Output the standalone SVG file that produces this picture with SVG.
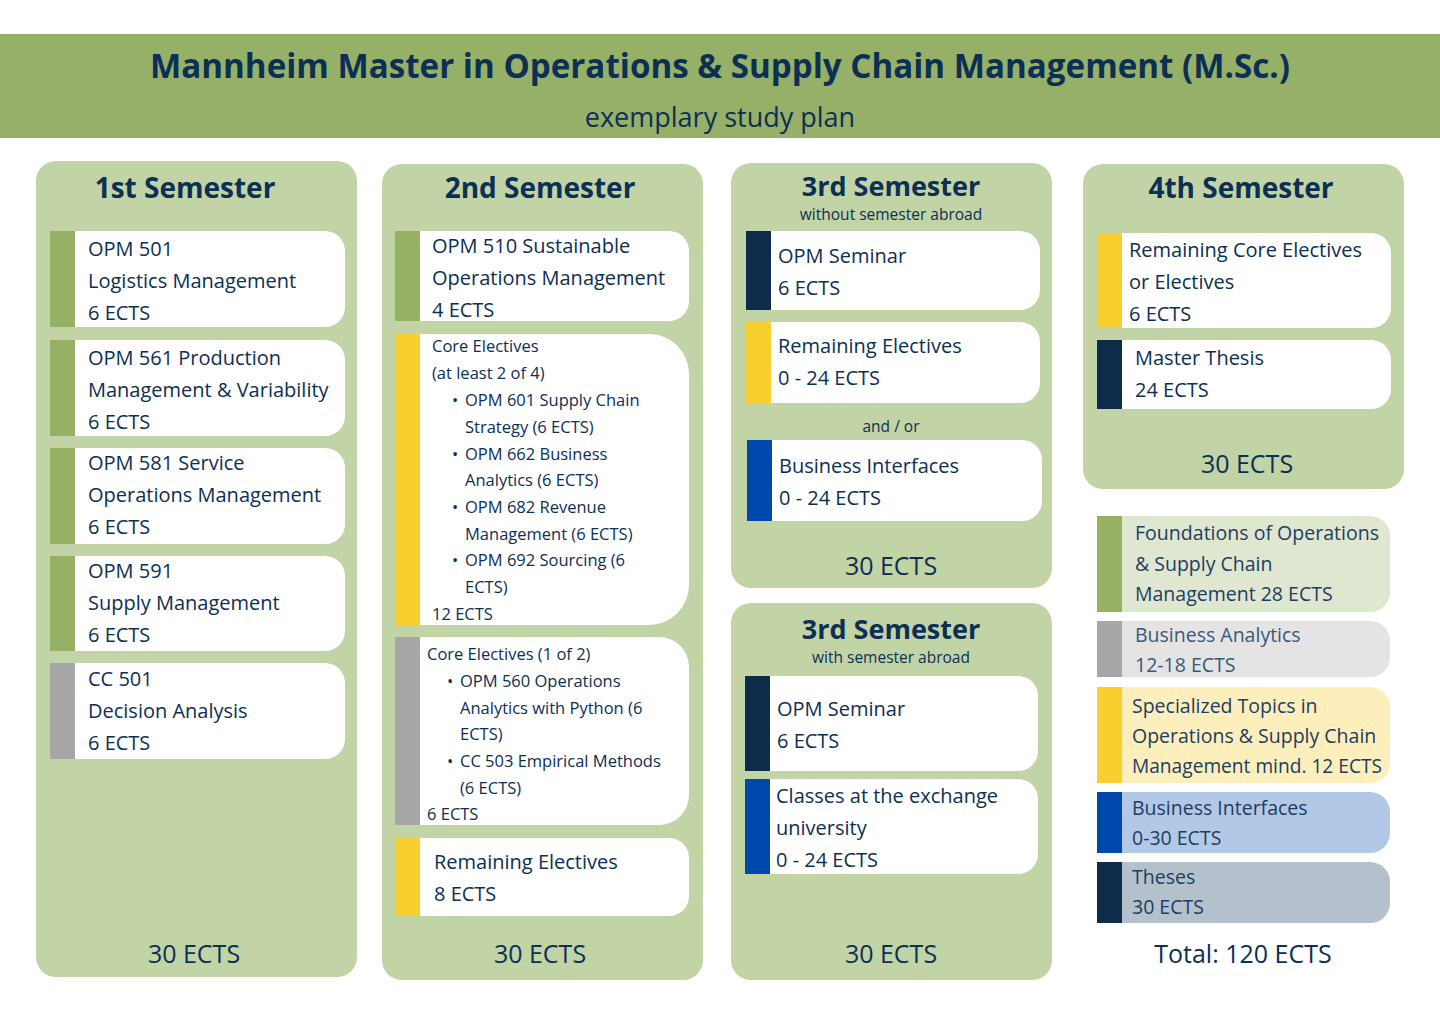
<svg xmlns="http://www.w3.org/2000/svg" width="1440" height="1017" viewBox="0 0 1440 1017">
<style>
text{font-family:"Open Sans","Liberation Sans",sans-serif;fill:#0c2f55}
.h{font-size:28px;font-weight:bold;text-anchor:middle}
.h3{font-size:27px;font-weight:bold;text-anchor:middle}
.sub{font-size:15.5px;text-anchor:middle}
.t{font-size:20px}
.s{font-size:16.5px}
.tot{font-size:25px;text-anchor:middle}
.panel{fill:#c2d3a5}
.card{fill:#fff}
.g{fill:#96b064}.gr{fill:#a6a6a6}.y{fill:#f9cf2f}.n{fill:#0d2b4b}.b{fill:#0048ac}
.lg text{fill:#1d3d62}
.lg .t{font-size:19.5px}
</style>
<rect x="0" y="0" width="1440" height="1017" fill="#fff"/>
<g id="header">
<rect x="0" y="34" width="1440" height="104" fill="#97b067"/>
<text x="720" y="78" font-size="34" font-weight="bold" text-anchor="middle" textLength="1140" lengthAdjust="spacingAndGlyphs">Mannheim Master in Operations &amp; Supply Chain Management (M.Sc.)</text>
<text x="720" y="127" font-size="27" text-anchor="middle">exemplary study plan</text>
</g>
<g id="sem1">
<rect class="panel" x="36" y="161" width="321" height="816" rx="20"/>
<text class="h" x="185" y="198">1st Semester</text>
<path class="card" d="M50 231H325A20 20 0 0 1 345 251V307A20 20 0 0 1 325 327H50Z"/><rect class="g" x="50" y="231" width="25" height="96"/>
<text class="t" x="88" y="256">OPM 501</text><text class="t" x="88" y="288">Logistics Management</text><text class="t" x="88" y="320">6 ECTS</text>
<path class="card" d="M50 340H325A20 20 0 0 1 345 360V416A20 20 0 0 1 325 436H50Z"/><rect class="g" x="50" y="340" width="25" height="96"/>
<text class="t" x="88" y="365">OPM 561 Production</text><text class="t" x="88" y="397">Management &amp; Variability</text><text class="t" x="88" y="429">6 ECTS</text>
<path class="card" d="M50 448H325A20 20 0 0 1 345 468V524A20 20 0 0 1 325 544H50Z"/><rect class="g" x="50" y="448" width="25" height="96"/>
<text class="t" x="88" y="470">OPM 581 Service</text><text class="t" x="88" y="502">Operations Management</text><text class="t" x="88" y="534">6 ECTS</text>
<path class="card" d="M50 556H325A20 20 0 0 1 345 576V631A20 20 0 0 1 325 651H50Z"/><rect class="g" x="50" y="556" width="25" height="95"/>
<text class="t" x="88" y="578">OPM 591</text><text class="t" x="88" y="610">Supply Management</text><text class="t" x="88" y="642">6 ECTS</text>
<path class="card" d="M50 663H325A20 20 0 0 1 345 683V739A20 20 0 0 1 325 759H50Z"/><rect class="gr" x="50" y="663" width="25" height="96"/>
<text class="t" x="88" y="686">CC 501</text><text class="t" x="88" y="718">Decision Analysis</text><text class="t" x="88" y="750">6 ECTS</text>
<text class="tot" x="194" y="963">30 ECTS</text>
</g>
<g id="sem2">
<rect class="panel" x="382" y="164" width="321" height="816" rx="20"/>
<text class="h" x="540" y="198">2nd Semester</text>
<path class="card" d="M395 231H669A20 20 0 0 1 689 251V301A20 20 0 0 1 669 321H395Z"/><rect class="g" x="395" y="231" width="25" height="90"/>
<text class="t" x="432" y="253">OPM 510 Sustainable</text><text class="t" x="432" y="285">Operations Management</text><text class="t" x="432" y="317">4 ECTS</text>
<path class="card" d="M395 334H649A40 40 0 0 1 689 374V585A40 40 0 0 1 649 625H395Z"/><rect class="y" x="395" y="334" width="25" height="291"/>
<text class="s" x="432" y="352">Core Electives</text><text class="s" x="432" y="379">(at least 2 of 4)</text>
<text class="s" x="452" y="406">•</text><text class="s" x="465" y="406">OPM 601 Supply Chain</text><text class="s" x="465" y="433">Strategy (6 ECTS)</text>
<text class="s" x="452" y="460">•</text><text class="s" x="465" y="460">OPM 662 Business</text><text class="s" x="465" y="486">Analytics (6 ECTS)</text>
<text class="s" x="452" y="513">•</text><text class="s" x="465" y="513">OPM 682 Revenue</text><text class="s" x="465" y="540">Management (6 ECTS)</text>
<text class="s" x="452" y="566">•</text><text class="s" x="465" y="566">OPM 692 Sourcing (6</text><text class="s" x="465" y="593">ECTS)</text>
<text class="s" x="432" y="620">12 ECTS</text>
<path class="card" d="M395 637H659A30 30 0 0 1 689 667V795A30 30 0 0 1 659 825H395Z"/><rect class="gr" x="395" y="637" width="25" height="188"/>
<text class="s" x="427" y="660">Core Electives (1 of 2)</text>
<text class="s" x="447" y="687">•</text><text class="s" x="460" y="687">OPM 560 Operations</text><text class="s" x="460" y="714">Analytics with Python (6</text><text class="s" x="460" y="740">ECTS)</text>
<text class="s" x="447" y="767">•</text><text class="s" x="460" y="767">CC 503 Empirical Methods</text><text class="s" x="460" y="794">(6 ECTS)</text>
<text class="s" x="427" y="820">6 ECTS</text>
<path class="card" d="M395 838H669A20 20 0 0 1 689 858V896A20 20 0 0 1 669 916H395Z"/><rect class="y" x="395" y="838" width="25" height="78"/>
<text class="t" x="434" y="869">Remaining Electives</text><text class="t" x="434" y="901">8 ECTS</text>
<text class="tot" x="540" y="963">30 ECTS</text>
</g>
<g id="sem3a">
<rect class="panel" x="731" y="163" width="321" height="425" rx="20"/>
<text class="h3" x="891" y="196">3rd Semester</text>
<text class="sub" x="891" y="220">without semester abroad</text>
<path class="card" d="M746 231H1020A20 20 0 0 1 1040 251V290A20 20 0 0 1 1020 310H746Z"/><rect class="n" x="746" y="231" width="25" height="79"/>
<text class="t" x="778" y="263">OPM Seminar</text><text class="t" x="778" y="295">6 ECTS</text>
<path class="card" d="M746 322H1020A20 20 0 0 1 1040 342V383A20 20 0 0 1 1020 403H746Z"/><rect class="y" x="746" y="322" width="25" height="81"/>
<text class="t" x="778" y="353">Remaining Electives</text><text class="t" x="778" y="385">0 - 24 ECTS</text>
<text class="sub" x="891" y="432">and / or</text>
<path class="card" d="M747 440H1022A20 20 0 0 1 1042 460V501A20 20 0 0 1 1022 521H747Z"/><rect class="b" x="747" y="440" width="25" height="81"/>
<text class="t" x="779" y="473">Business Interfaces</text><text class="t" x="779" y="505">0 - 24 ECTS</text>
<text class="tot" x="891" y="575">30 ECTS</text>
</g>
<g id="sem3b">
<rect class="panel" x="731" y="603" width="321" height="377" rx="20"/>
<text class="h3" x="891" y="639">3rd Semester</text>
<text class="sub" x="891" y="663">with semester abroad</text>
<path class="card" d="M745 676H1018A20 20 0 0 1 1038 696V751A20 20 0 0 1 1018 771H745Z"/><rect class="n" x="745" y="676" width="25" height="95"/>
<text class="t" x="777" y="716">OPM Seminar</text><text class="t" x="777" y="748">6 ECTS</text>
<path class="card" d="M745 779H1018A20 20 0 0 1 1038 799V854A20 20 0 0 1 1018 874H745Z"/><rect class="b" x="745" y="779" width="25" height="95"/>
<text class="t" x="776" y="803">Classes at the exchange</text><text class="t" x="776" y="835">university</text><text class="t" x="776" y="867">0 - 24 ECTS</text>
<text class="tot" x="891" y="963">30 ECTS</text>
</g>
<g id="sem4">
<rect class="panel" x="1083" y="164" width="321" height="325" rx="20"/>
<text class="h" x="1241" y="198">4th Semester</text>
<path class="card" d="M1097 233H1371A20 20 0 0 1 1391 253V308A20 20 0 0 1 1371 328H1097Z"/><rect class="y" x="1097" y="233" width="25" height="95"/>
<text class="t" x="1129" y="257">Remaining Core Electives</text><text class="t" x="1129" y="289">or Electives</text><text class="t" x="1129" y="321">6 ECTS</text>
<path class="card" d="M1097 340H1371A20 20 0 0 1 1391 360V389A20 20 0 0 1 1371 409H1097Z"/><rect class="n" x="1097" y="340" width="25" height="69"/>
<text class="t" x="1135" y="365">Master Thesis</text><text class="t" x="1135" y="397">24 ECTS</text>
<text class="tot" x="1247" y="473">30 ECTS</text>
</g>
<g id="legend" class="lg">
<path fill="#dfe7d1" d="M1097 516H1370A20 20 0 0 1 1390 536V592A20 20 0 0 1 1370 612H1097Z"/><rect class="g" x="1097" y="516" width="25" height="96"/>
<text class="t" x="1135" y="540" textLength="244" lengthAdjust="spacingAndGlyphs">Foundations of Operations</text><text class="t" x="1135" y="571">&amp; Supply Chain</text><text class="t" x="1135" y="601">Management 28 ECTS</text>
<path fill="#e4e4e4" d="M1097 621H1370A20 20 0 0 1 1390 641V657A20 20 0 0 1 1370 677H1097Z"/><rect class="gr" x="1097" y="621" width="25" height="56"/>
<text class="t" x="1135" y="642" style="fill:#3a5878">Business Analytics</text><text class="t" x="1135" y="672" style="fill:#3a5878">12-18 ECTS</text>
<path fill="#fcefbb" d="M1097 687H1370A20 20 0 0 1 1390 707V763A20 20 0 0 1 1370 783H1097Z"/><rect class="y" x="1097" y="687" width="25" height="96"/>
<text class="t" x="1132" y="713">Specialized Topics in</text><text class="t" x="1132" y="743">Operations &amp; Supply Chain</text><text class="t" x="1132" y="773" textLength="250" lengthAdjust="spacingAndGlyphs">Management mind. 12 ECTS</text>
<path fill="#b2c8e6" d="M1097 792H1370A20 20 0 0 1 1390 812V833A20 20 0 0 1 1370 853H1097Z"/><rect class="b" x="1097" y="792" width="25" height="61"/>
<text class="t" x="1132" y="815">Business Interfaces</text><text class="t" x="1132" y="845">0-30 ECTS</text>
<path fill="#b4c1cc" d="M1097 862H1370A20 20 0 0 1 1390 882V903A20 20 0 0 1 1370 923H1097Z"/><rect class="n" x="1097" y="862" width="25" height="61"/>
<text class="t" x="1132" y="884">Theses</text><text class="t" x="1132" y="914">30 ECTS</text>
<text class="tot" x="1243" y="963" style="fill:#0c2f55">Total: 120 ECTS</text>
</g>
</svg>
